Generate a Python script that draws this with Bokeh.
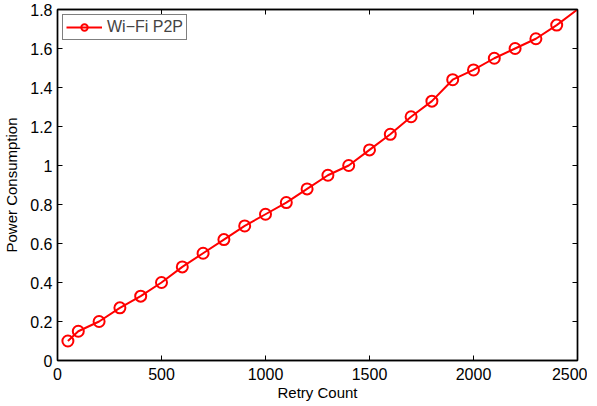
from bokeh.plotting import figure
from bokeh.models import LinearAxis, FixedTicker, CustomJSTickFormatter, Range1d
from bokeh.embed import file_html
from bokeh.resources import INLINE

retry_count = [50, 100, 200, 300, 400, 500, 600, 700, 800, 900, 1000, 1100, 1200,
               1300, 1400, 1500, 1600, 1700, 1800, 1900, 2000, 2100, 2200, 2300, 2400, 2500]
power = [0.10, 0.15, 0.20, 0.27, 0.33, 0.40, 0.48, 0.55, 0.62, 0.69, 0.75, 0.81, 0.88,
         0.95, 1.00, 1.08, 1.16, 1.25, 1.33, 1.44, 1.49, 1.55, 1.60, 1.65, 1.72, 1.80]
series_name = "Wi\u2212Fi P2P"
x_ticks = [0, 500, 1000, 1500, 2000, 2500]
x_tick_labels = ["0", "500", "1000", "1500", "2000", "2500"]
y_ticks = [0, 0.2, 0.4, 0.6, 0.8, 1.0, 1.2, 1.4, 1.6, 1.8]
y_tick_labels = ["0", "0.2", "0.4", "0.6", "0.8", "1", "1.2", "1.4", "1.6", "1.8"]

FONT = "Liberation Sans"
RED = "#ff0000"

p = figure(frame_width=520, frame_height=351, output_backend="svg", toolbar_location=None,
           x_range=Range1d(0, 2500), y_range=Range1d(0, 1.8),
           min_border_left=56, min_border_right=10, min_border_top=9, min_border_bottom=34)
p.background_fill_color = "white"
p.border_fill_color = "white"
p.outline_line_color = "black"
p.outline_line_width = 1.3
p.xgrid.visible = False
p.ygrid.visible = False

p.line(retry_count, power, line_color=RED, line_width=2, legend_label=series_name)
p.scatter(retry_count[:-1], power[:-1], marker="circle", size=11, line_color=RED,
          line_width=2, fill_color=None, legend_label=series_name)

def style_axis(ax, ticks, labels, show_labels=True):
    ax.ticker = FixedTicker(ticks=ticks)
    ax.axis_line_color = "black"
    ax.axis_line_width = 1.5
    ax.major_tick_in = 5
    ax.major_tick_out = 0
    ax.major_tick_line_color = "black"
    ax.minor_tick_line_color = None
    if show_labels:
        ax.major_label_overrides = {t: l for t, l in zip(ticks, labels)}
        ax.major_label_text_font = FONT
        ax.major_label_text_font_size = "16px"
        ax.major_label_text_color = "black"
        ax.axis_label_text_font = FONT
        ax.axis_label_text_font_size = "15px"
        ax.axis_label_text_font_style = "normal"
        ax.axis_label_text_color = "black"
    else:
        ax.formatter = CustomJSTickFormatter(code="return ''")
        ax.major_label_standoff = 0

xa = p.xaxis[0]
style_axis(xa, x_ticks, x_tick_labels)
xa.major_label_standoff = 7
xa.axis_label = "Retry Count"
xa.axis_label_standoff = 1

ya = p.yaxis[0]
style_axis(ya, y_ticks, y_tick_labels)
ya.major_label_standoff = 5
ya.axis_label = "Power Consumption"
ya.axis_label_standoff = 7

top = LinearAxis()
style_axis(top, x_ticks, x_tick_labels, show_labels=False)
p.add_layout(top, "above")
right = LinearAxis()
style_axis(right, y_ticks, y_tick_labels, show_labels=False)
p.add_layout(right, "right")

lg = p.legend[0]
lg.location = "top_left"
lg.margin = 5
lg.padding = 3
lg.spacing = 0
lg.glyph_width = 36
lg.glyph_height = 16
lg.label_standoff = 5
lg.label_height = 16
lg.label_text_font = FONT
lg.label_text_font_size = "16px"
lg.border_line_color = "black"
lg.border_line_width = 1
lg.background_fill_color = "white"
lg.background_fill_alpha = 1.0

open("out.html", "w").write(file_html(p, INLINE))
